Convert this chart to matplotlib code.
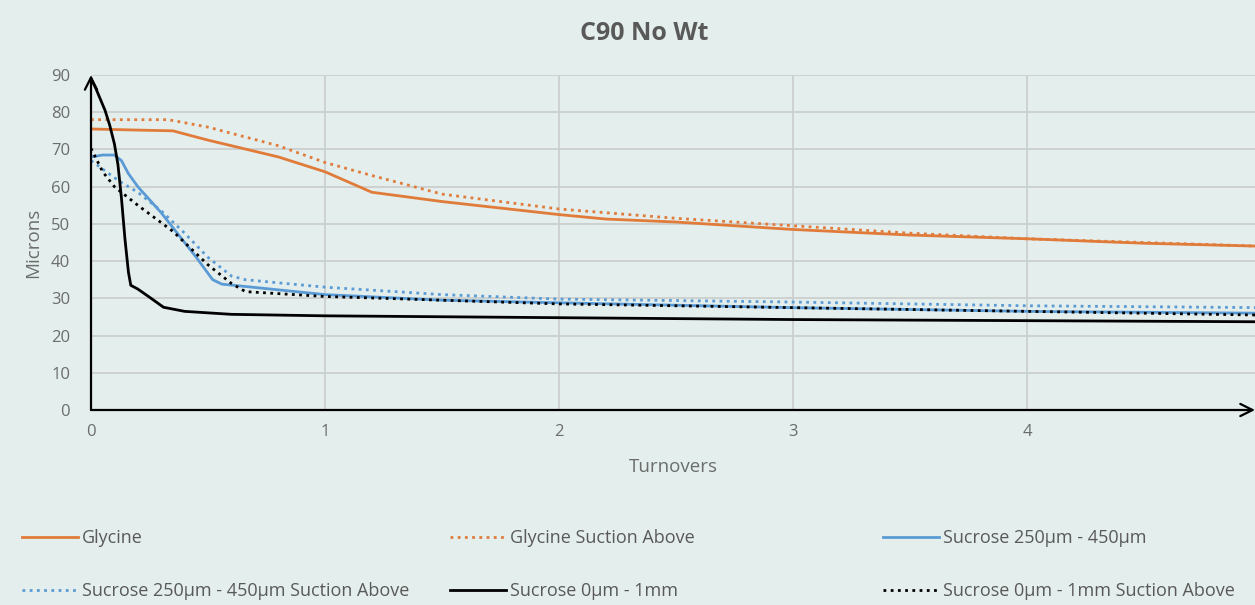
import numpy as np
import matplotlib.pyplot as plt

plt.rcParams['font.family'] = ['Open Sans', 'DejaVu Sans']

# data
gly_x = [0, 0.2, 0.35, 0.5, 0.8, 1.0, 1.2, 1.5, 2.0, 2.2, 2.5, 3.0, 3.5, 4.0, 4.5, 5.0]
gly_y = [75.5, 75.2, 75, 72.5, 68, 64, 58.5, 56, 52.5, 51.3, 50.5, 48.5, 47, 46, 44.8, 44]

glys_x = [0, 0.2, 0.33, 0.5, 0.8, 1.0, 1.2, 1.5, 2.0, 2.2, 2.5, 3.0, 3.5, 4.0, 4.5, 5.0]
glys_y = [78, 78, 78, 76, 71, 66.5, 63, 58, 54, 53, 51.5, 49.5, 47.5, 46, 45, 44]

suc_x = [0, 0.05, 0.1, 0.13, 0.16, 0.2, 0.3, 0.45, 0.52, 0.56, 0.61, 1.0, 1.5, 2.0, 3.0, 4.0, 5.0]
suc_y = [68, 68.5, 68.5, 67, 63.5, 60, 53, 41, 35, 33.8, 33.5, 31, 29.5, 28.8, 27.5, 26.5, 26]

sucs_x = [0, 0.12, 0.2, 0.3, 0.4, 0.5, 0.6, 0.66, 1.0, 1.5, 2.0, 3.0, 4.0, 5.0]
sucs_y = [67, 61.5, 58.5, 53.5, 47.5, 41, 36, 35, 33, 31, 29.8, 29, 28, 27.5]

suc1_x = [0, 0.02, 0.04, 0.06, 0.08, 0.1, 0.115, 0.13, 0.145, 0.16, 0.17, 0.2, 0.25, 0.31, 0.4, 0.6, 1.0, 2.0, 3.0, 4.0, 5.0]
suc1_y = [89, 86.5, 83.5, 80.5, 76.5, 71.5, 66, 57, 46, 37, 33.5, 32.5, 30.3, 27.6, 26.5, 25.7, 25.3, 24.8, 24.3, 24, 23.7]

suc1s_x = [0, 0.05, 0.1, 0.2, 0.35, 0.5, 0.6, 0.66, 1.0, 1.5, 2.0, 3.0, 4.0, 5.0]
suc1s_y = [70.3, 64, 60, 55, 48, 39, 34, 31.8, 30.5, 29.5, 28.5, 27.5, 26.5, 25.5]

labels = ['Glycine', 'Glycine Suction Above', 'Sucrose 250µm - 450µm',
          'Sucrose 250µm - 450µm Suction Above', 'Sucrose 0µm - 1mm',
          'Sucrose 0µm - 1mm Suction Above']

orange = '#E07B39'
blue = '#5B9BD5'
dot = (0, (1, 1.6))
bg = '#E4EEEC'
grey = '#595959'

fig = plt.figure(figsize=(12.55, 6.05), dpi=100, facecolor=bg)
ax = fig.add_axes([91/1255, 1-410/605, 1-91/1255, 335/605])
ax.set_facecolor(bg)

h = []
h += ax.plot(gly_x, gly_y, color=orange, lw=2)
h += ax.plot(glys_x, glys_y, color=orange, lw=2, ls=dot)
h += ax.plot(suc_x, suc_y, color=blue, lw=2)
h += ax.plot(sucs_x, sucs_y, color=blue, lw=2, ls=dot)
h += ax.plot(suc1_x, suc1_y, color='black', lw=2)
h += ax.plot(suc1s_x, suc1s_y, color='black', lw=2, ls=dot)

ax.set_xlim(0, 4.974)
ax.set_ylim(0, 90)
ax.set_xticks([0, 1, 2, 3, 4])
ax.set_yticks(range(0, 91, 10))
ax.grid(True, color='#CBCFCE', lw=1.3)
ax.set_axisbelow(True)
for s in ax.spines.values():
    s.set_visible(False)
ax.tick_params(length=0, labelsize=12, labelcolor='#6A6D6C', pad=10)
ax.tick_params(axis='y', pad=15)

# axis arrows
ax.annotate('', xy=(0, 1), xytext=(0, 0), xycoords='axes fraction',
            arrowprops=dict(arrowstyle='->', color='black', lw=1.6, shrinkA=0, shrinkB=0,
                            mutation_scale=22))
ax.annotate('', xy=(1, 0), xytext=(0, 0), xycoords='axes fraction',
            arrowprops=dict(arrowstyle='->', color='black', lw=1.6, shrinkA=0, shrinkB=0,
                            mutation_scale=22), annotation_clip=False)

ax.set_xlabel('Turnovers', fontsize=13.5, color='#6A6D6C', labelpad=13)
ax.set_ylabel('Microns', fontsize=13.5, color='#6A6D6C', labelpad=6)
fig.text(644/1255, 1-33/605, 'C90 No Wt', ha='center', va='center', fontsize=18,
         fontweight='bold', color=grey)

# legend: three columns
xs = [22, 450, 883]
for i in range(3):
    lg = fig.legend([h[i], h[i+3]], [labels[i], labels[i+3]], loc='upper left',
                    bbox_to_anchor=(xs[i]/1255, 1-529/605), frameon=False,
                    fontsize=13, handlelength=3.1, handletextpad=0.2,
                    labelspacing=1.95, borderpad=0, borderaxespad=0, labelcolor=grey)

fig.savefig('out.png', dpi=100, facecolor=bg)
